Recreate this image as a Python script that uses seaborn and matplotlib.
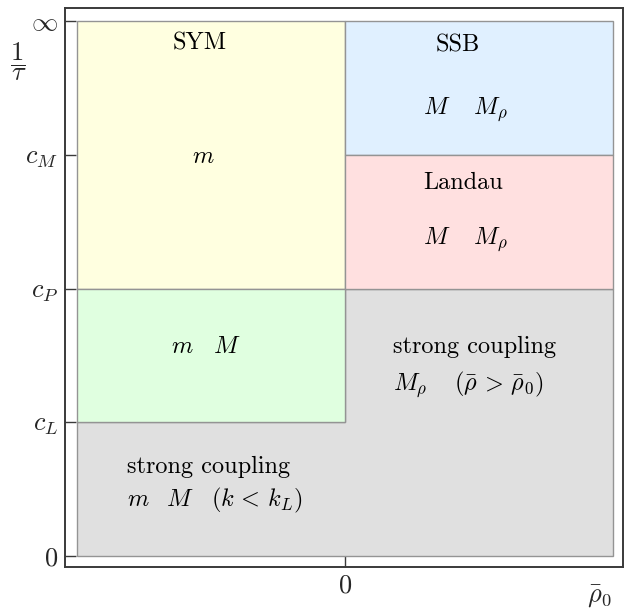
import matplotlib
matplotlib.use("Agg")
import matplotlib.pyplot as plt
import seaborn as sns
import pandas as pd

# Phase regions: rectangles in (rho0, 1/tau) space, y levels 0, c_L, c_P, c_M, inf -> 0..4
region_names = ["SYM", "SSB", "Landau", "mM"]
region_x0 = [-1.0, 0.0, 0.0, -1.0]
region_x1 = [0.0, 1.0, 1.0, 0.0]
region_y0 = [2.0, 3.0, 2.0, 1.0]
region_y1 = [4.0, 4.0, 3.0, 2.0]
region_colors = ["#ffffe0", "#e0f0ff", "#ffe0e0", "#e0ffe0"]

# L-shaped strong coupling region outline
strong_x = [-1.0, 1.0, 1.0, 0.0, 0.0, -1.0]
strong_y = [0.0, 0.0, 2.0, 2.0, 1.0, 1.0]

ytick_pos = [0, 1, 2, 3, 4]
ytick_labels = ["$0$", "$c_L$", "$c_P$", "$c_M$", r"$\infty$"]
xtick_pos = [0]
xtick_labels = ["$0$"]

# centred labels
clabel_x = [-0.541, -0.530, 0.422, -0.517]
clabel_y = [3.835, 2.983, 3.82, 1.56]
clabel_text = ["SYM", "$m$", "SSB", r"$m\quad M$"]

# left-aligned labels
llabel_x = [0.291, 0.291, 0.291, 0.179, 0.179, -0.813, -0.813]
llabel_y = [3.335, 2.79, 2.363, 1.563, 1.279, 0.665, 0.419]
llabel_text = [r"$M\quad\; M_\rho$", "Landau", r"$M\quad\; M_\rho$", "strong coupling",
               r"$M_\rho\quad\;(\bar\rho\,>\,\bar\rho_0)$", "strong coupling",
               r"$m\;\;\;M\quad(k\,<\,k_L)$"]

sns.set_theme(style="ticks")
plt.rcParams["font.family"] = ["serif"]
plt.rcParams["font.serif"] = ["cmr10", "DejaVu Serif"]
plt.rcParams["mathtext.fontset"] = "cm"
plt.rcParams["axes.formatter.use_mathtext"] = True

W, H = 624, 610
fig = plt.figure(figsize=(W / 100, H / 100), dpi=100)
ax = fig.add_axes([65 / W, 1 - 567 / H, (623 - 65) / W, (567 - 8) / H])

edge = "#949494"
ax.fill(strong_x, strong_y, facecolor="#e0e0e0", edgecolor=edge, lw=1.0, zorder=1)

df = pd.DataFrame({"name": region_names, "x0": region_x0, "x1": region_x1,
                   "y0": region_y0, "y1": region_y1, "color": region_colors})
for _, r in df.iterrows():
    ax.bar(r.x0, r.y1 - r.y0, width=r.x1 - r.x0, bottom=r.y0, align="edge",
           color=r.color, edgecolor=edge, lw=1.0, zorder=2)

fs = 17.5
for x, y, t in zip(clabel_x, clabel_y, clabel_text):
    ax.text(x, y, t, ha="center", va="center", fontsize=fs, color="black", zorder=3)
for x, y, t in zip(llabel_x, llabel_y, llabel_text):
    ax.text(x, y, t, ha="left", va="center", fontsize=fs, color="black", zorder=3)

ax.set_xlim(-1.045, 1.037)
ax.set_ylim(-0.082, 4.097)
ax.set_yticks(ytick_pos)
ax.set_yticklabels(ytick_labels, fontsize=19)
ax.set_xticks(xtick_pos)
ax.set_xticklabels(xtick_labels, fontsize=19)
ax.tick_params(direction="in", length=8, width=1.0, color="#3a3a3a", pad=5)
for s in ax.spines.values():
    s.set_color("#3a3a3a")
    s.set_linewidth(1.4)

fig.text(18.5 / W, 1 - 62 / H, r"$\dfrac{1}{\tau}$", fontsize=19, ha="center", va="center")
fig.text(600 / W, 1 - 596 / H, r"$\bar{\rho}_0$", fontsize=19, ha="center", va="center")

fig.savefig("out.png", dpi=100)
